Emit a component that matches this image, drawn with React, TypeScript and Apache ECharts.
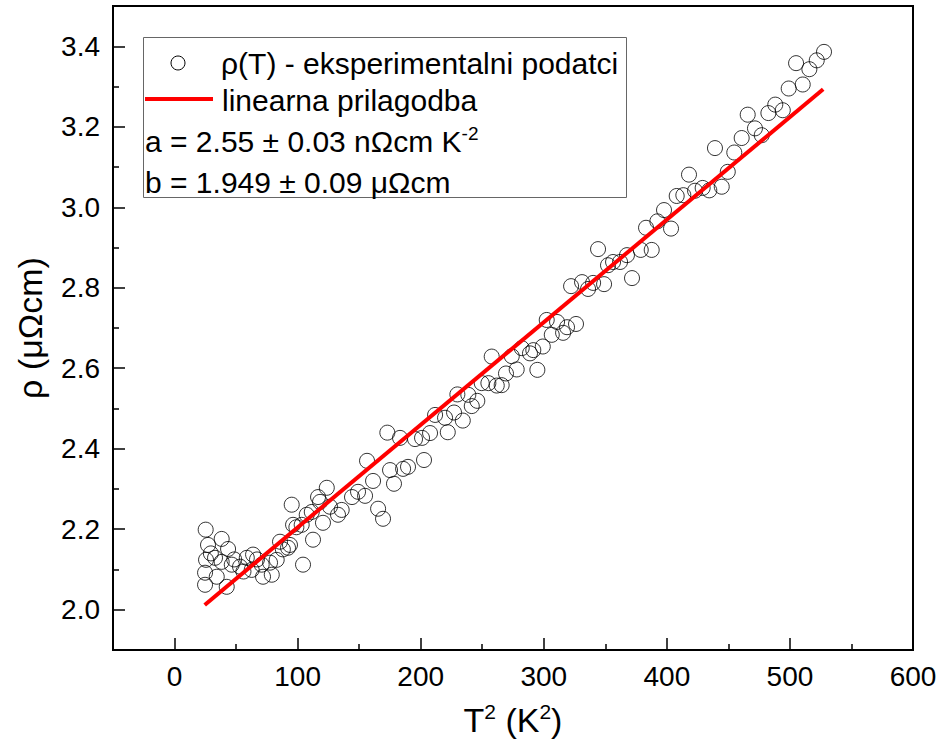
import React, { useEffect, useRef } from "react";
import * as echarts from "echarts";

// T^2 (K^2) values of the measured points
const tSquared = [
  25.3, 27.2, 38.3, 43.5, 25.6, 32.9, 38.3, 24.8, 34.3, 24.8, 42.4, 46.5, 53.2, 58.7, 63.8, 62.7,
  70.8, 71.9, 79.0, 77.6, 83.0, 85.7, 92.2, 93.8, 104.4, 95.2, 96.3, 103.3, 107.4, 111.5, 112.5,
  116.6, 120.6, 123.7, 126.3, 132.8, 135.8, 118.2, 29.5, 48.5, 56.0, 67.0, 88.0, 99.0,
  144.2, 149.1, 154.8, 156.4, 161.3, 165.4, 169.4, 175.1, 178.3, 185.7, 189.7, 202.7,
  172.9, 183.2, 195.4, 201.1, 207.6, 211.7, 219.8, 222.0, 227.1, 234.2, 229.8, 238.7, 241.5,
  246.0, 249.6, 255.0, 261.8, 265.8, 257.7, 269.3, 278.0, 274.0, 282.1, 288.8, 291.5, 299.2,
  294.8, 302.4, 306.5,
  310.8, 315.7, 318.9, 322.2, 326.2, 331.1, 336.0, 340.1, 344.1, 349.0, 352.2, 356.3, 362.0,
  371.7, 367.6, 378.8, 387.7, 383.1, 392.3, 397.7, 403.4, 408.0, 413.4, 418.0, 422.9, 429.1,
  434.5, 444.6, 439.1, 449.5, 454.8, 460.8, 465.7, 471.6, 477.1, 482.5, 488.1, 494.2, 499.0,
  510.4, 505.0, 515.8, 521.8, 527.7,
];

// resistivity rho (µΩcm) of the measured points
const rho = [
  2.199, 2.161, 2.176, 2.151, 2.124, 2.129, 2.119, 2.092, 2.082, 2.062, 2.057, 2.112, 2.107, 2.129,
  2.137, 2.099, 2.112, 2.082, 2.087, 2.117, 2.124, 2.169, 2.154, 2.161, 2.112, 2.261, 2.211,
  2.211, 2.236, 2.243, 2.174, 2.28, 2.216, 2.303, 2.256, 2.236, 2.248, 2.268, 2.14, 2.125, 2.095,
  2.125, 2.15, 2.205,
  2.28, 2.293, 2.283, 2.37, 2.32, 2.251, 2.226, 2.347, 2.313, 2.35, 2.355, 2.372,
  2.44, 2.427, 2.424, 2.427, 2.439, 2.484, 2.477, 2.441, 2.49, 2.47, 2.535, 2.534, 2.506,
  2.519, 2.563, 2.563, 2.557, 2.558, 2.629, 2.587, 2.597, 2.63, 2.65, 2.637, 2.645, 2.654,
  2.596, 2.72, 2.683,
  2.715, 2.688, 2.702, 2.804, 2.71, 2.814, 2.797, 2.812, 2.896, 2.809, 2.856, 2.864, 2.864,
  2.824, 2.881, 2.894, 2.894, 2.949, 2.965, 2.993, 2.947, 3.028, 3.03, 3.081, 3.041, 3.048,
  3.042, 3.051, 3.147, 3.088, 3.136, 3.172, 3.23, 3.196, 3.179, 3.234, 3.255, 3.241, 3.295,
  3.305, 3.358, 3.343, 3.365, 3.386,
];

// linear fit endpoints
const fitT2 = [24.5, 527];
const fitRho = [2.012, 3.293];

const xTickValues = [0, 100, 200, 300, 400, 500, 600];
const xMinorValues = [50, 150, 250, 350, 450, 550];
const yTickValues = [2.0, 2.2, 2.4, 2.6, 2.8, 3.0, 3.2, 3.4];
const yMinorValues = [2.1, 2.3, 2.5, 2.7, 2.9, 3.1, 3.3];

const legendData = "ρ(T) - eksperimentalni podatci";
const legendFit = "linearna prilagodba";
const paramA = "a = 2.55 ± 0.03 nΩcm K";
const paramASup = "-2";
const paramB = "b = 1.949 ± 0.09 μΩcm";

const FONT = "'Liberation Sans', Arial, sans-serif";

export default function App() {
  const ref = useRef<HTMLDivElement>(null);

  useEffect(() => {
    if (!ref.current) return;
    const chart = echarts.init(ref.current, null, { renderer: "svg" });

    const points = tSquared.map((t, i) => [t, rho[i]]);
    const fit = fitT2.map((t, i) => [t, fitRho[i]]);

    const tickStyle = { color: "#000", width: 1.5 };
    const labelStyle = { color: "#000", fontSize: 28, fontFamily: FONT };

    chart.setOption({
      animation: false,
      backgroundColor: "#fff",
      grid: {
        left: 113,
        right: 25,
        top: 6,
        bottom: 99,
        show: true,
        borderColor: "#000",
        borderWidth: 2,
        backgroundColor: "transparent",
        containLabel: false,
        outerBoundsMode: "none",
      },
      xAxis: [
        {
          type: "value",
          min: -50,
          max: 600,
          position: "bottom",
          splitLine: { show: false },
          axisLine: { show: true, onZero: false, lineStyle: { color: "#000", width: 2 } },
          axisTick: { show: true, inside: true, length: 12, lineStyle: tickStyle, customValues: xTickValues },
          axisLabel: { ...labelStyle, margin: 12, customValues: xTickValues },
          name: "{n|T}{s|2}{n| (K}{s|2}{n|)}",
          nameLocation: "middle",
          nameGap: 51,
          nameTextStyle: {
            color: "#000",
            fontSize: 34,
            fontFamily: FONT,
            rich: {
              n: { color: "#000", fontSize: 34, fontFamily: FONT, lineHeight: 38 },
              s: { color: "#000", fontSize: 21, fontFamily: FONT, lineHeight: 21, verticalAlign: "top" },
            },
          },
        },
        {
          type: "value",
          min: -50,
          max: 600,
          position: "bottom",
          splitLine: { show: false },
          axisLine: { show: false, onZero: false },
          axisTick: { show: true, inside: true, length: 6, lineStyle: tickStyle, customValues: xMinorValues },
          axisLabel: { show: false },
        },
      ],
      yAxis: [
        {
          type: "value",
          min: 1.9,
          max: 3.5,
          position: "left",
          splitLine: { show: false },
          axisLine: { show: true, onZero: false, lineStyle: { color: "#000", width: 2 } },
          axisTick: { show: true, inside: true, length: 12, lineStyle: tickStyle, customValues: yTickValues },
          axisLabel: {
            ...labelStyle,
            margin: 13,
            customValues: yTickValues,
            formatter: (v: number) => v.toFixed(1),
          },
          name: "ρ (μΩcm)",
          nameLocation: "middle",
          nameRotate: 90,
          nameGap: 66,
          nameTextStyle: { color: "#000", fontSize: 34, fontFamily: FONT },
        },
        {
          type: "value",
          min: 1.9,
          max: 3.5,
          position: "left",
          splitLine: { show: false },
          axisLine: { show: false, onZero: false },
          axisTick: { show: true, inside: true, length: 6, lineStyle: tickStyle, customValues: yMinorValues },
          axisLabel: { show: false },
        },
      ],
      series: [
        {
          type: "scatter",
          xAxisIndex: 0,
          yAxisIndex: 0,
          data: points,
          symbol: "circle",
          symbolSize: 15,
          silent: true,
          itemStyle: { color: "rgba(0,0,0,0)", borderColor: "#000", borderWidth: 1 },
          z: 2,
        },
        {
          type: "line",
          xAxisIndex: 0,
          yAxisIndex: 0,
          data: fit,
          showSymbol: false,
          symbol: "none",
          silent: true,
          lineStyle: { color: "#ff0000", width: 4 },
          z: 3,
        },
      ],
      graphic: [
        {
          type: "rect",
          shape: { x: 143.5, y: 37.5, width: 483, height: 160 },
          style: { fill: "#fff", stroke: "#666", lineWidth: 1 },
          z: 100,
        },
        {
          type: "circle",
          shape: { cx: 178, cy: 63, r: 7 },
          style: { fill: "none", stroke: "#000", lineWidth: 1 },
          z: 101,
        },
        {
          type: "text",
          x: 221,
          y: 63,
          style: { text: legendData, fill: "#000", fontSize: 30, fontFamily: FONT, verticalAlign: "middle" },
          z: 101,
        },
        {
          type: "line",
          shape: { x1: 145, y1: 99, x2: 213, y2: 99 },
          style: { stroke: "#ff0000", lineWidth: 4 },
          z: 101,
        },
        {
          type: "text",
          x: 222,
          y: 100,
          style: { text: legendFit, fill: "#000", fontSize: 30, fontFamily: FONT, verticalAlign: "middle" },
          z: 101,
        },
        {
          type: "text",
          x: 145,
          y: 141,
          style: {
            text: `{n|${paramA}}{s|${paramASup}}`,
            verticalAlign: "middle",
            rich: {
              n: { fill: "#000", fontSize: 30, fontFamily: FONT, lineHeight: 34 },
              s: { fill: "#000", fontSize: 19, fontFamily: FONT, lineHeight: 19, verticalAlign: "top" },
            },
          },
          z: 101,
        },
        {
          type: "text",
          x: 145,
          y: 182,
          style: { text: paramB, fill: "#000", fontSize: 30, fontFamily: FONT, verticalAlign: "middle" },
          z: 101,
        },
      ],
    });

    return () => chart.dispose();
  }, []);

  return (
    <div
      ref={ref}
      style={{ position: "fixed", left: 0, top: 0, width: 938, height: 749, background: "#fff" }}
    />
  );
}
